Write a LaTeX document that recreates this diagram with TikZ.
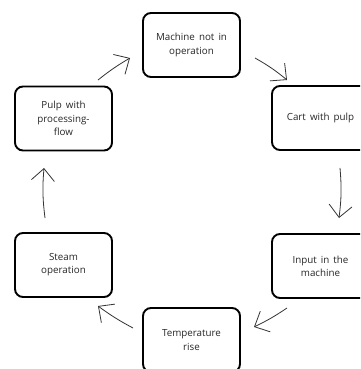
\documentclass[tikz,border=0pt]{standalone}
\usepackage{fontspec}
\setmainfont{Open Sans}[WordSpace={1.6}]
\usetikzlibrary{arrows.meta}
\begin{document}
\begin{tikzpicture}[x=1pt,y=-1pt,
  stepbox/.style={draw=black,line width=1.9pt,rounded corners=8pt,minimum width=97pt,minimum height=64pt,
    align=center,font=\fontsize{9.8}{13.2}\selectfont,text=black!85,inner sep=0pt},
  flow/.style={draw=black!80,line width=0.8pt,-{Straight Barb[length=12pt,width=23pt,line width=0.8pt]}}]
\useasboundingbox (0,0) rectangle (360,369);
\clip (0,0) rectangle (360,369);
\node[stepbox] (m) at (191.5,45) {Machine not in\\operation};
\node[stepbox] (c) at (320.5,118) {Cart with pulp};
\node[stepbox] (i) at (320.5,266) {Input in the\\machine};
\node[stepbox] (t) at (191.5,340) {Temperature\\rise};
\node[stepbox] (s) at (63.5,265) {Steam\\operation};
\node[stepbox] (p) at (63.5,118.5) {Pulp with\\processing-\\flow};
\coordinate (a1) at (255,58);  \coordinate (b1) at (287,80);
\coordinate (a2) at (340,168); \coordinate (b2) at (339,218);
\coordinate (a3) at (287,308); \coordinate (b3) at (254,327);
\coordinate (a4) at (133,328); \coordinate (b4) at (98,306);
\coordinate (a5) at (45,218);  \coordinate (b5) at (44,168);
\coordinate (a6) at (98,80);   \coordinate (b6) at (130,58);
\draw[flow] (a1) to[bend left=5] (b1);
\draw[flow] (a2) to[bend left=6] (b2);
\draw[flow] (a3) to[bend left=4] (b3);
\draw[flow] (a4) to[bend left=4] (b4);
\draw[flow] (a5) to[bend left=6] (b5);
\draw[flow] (a6) to[bend left=4] (b6);
\end{tikzpicture}
\end{document}
